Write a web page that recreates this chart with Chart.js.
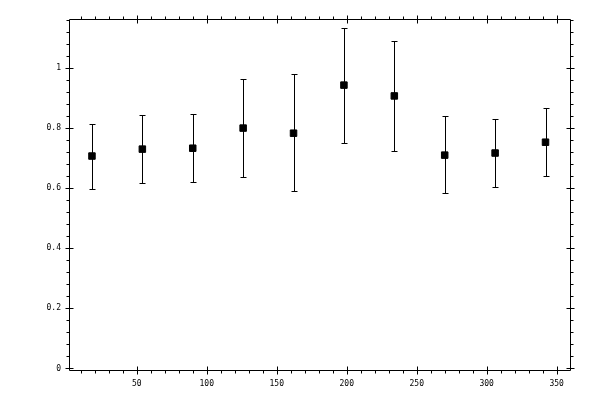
<!DOCTYPE html>
<html>
<head>
<meta charset="utf-8">
<script src="https://cdn.jsdelivr.net/npm/chart.js@4.4.1/dist/chart.umd.min.js"></script>
<style>
  html, body { margin: 0; padding: 0; background: #fff; }
  #wrap { width: 600px; height: 400px; }
</style>
</head>
<body>
<div id="wrap"><canvas id="grafico"></canvas></div>
<script>
// valores
const posicoes = [18, 54, 90, 126, 162, 198, 234, 270, 306, 342];
const medias   = [0.707, 0.730, 0.733, 0.800, 0.783, 0.943, 0.907, 0.710, 0.717, 0.753];
const superior = [0.815, 0.843, 0.847, 0.963, 0.980, 1.133, 1.090, 0.840, 0.830, 0.867];
const inferior = [0.597, 0.617, 0.621, 0.637, 0.592, 0.750, 0.723, 0.583, 0.603, 0.641];

const ticksX = [50, 100, 150, 200, 250, 300, 350];
const ticksY = [0, 0.2, 0.4, 0.6, 0.8, 1];
const passoMenorX = 10;
const passoMenorY = 0.04;

const fonte = { family: 'DejaVu Sans Mono', size: 8 };

// barras de erro
const barrasErro = {
  id: 'barrasErro',
  beforeDatasetsDraw(chart) {
    const ctx = chart.ctx;
    const sx = chart.scales.x, sy = chart.scales.y;
    ctx.save();
    ctx.strokeStyle = '#000';
    ctx.lineWidth = 1;
    posicoes.forEach((p, i) => {
      const x = Math.round(sx.getPixelForValue(p)) + 0.5;
      const y1 = Math.round(sy.getPixelForValue(superior[i])) + 0.5;
      const y2 = Math.round(sy.getPixelForValue(inferior[i])) + 0.5;
      ctx.beginPath();
      ctx.moveTo(x, y1); ctx.lineTo(x, y2);
      ctx.moveTo(x - 3, y1); ctx.lineTo(x + 3, y1);
      ctx.moveTo(x - 3, y2); ctx.lineTo(x + 3, y2);
      ctx.stroke();
    });
    ctx.restore();
  }
};

// moldura com marcas maiores e menores nos quatro lados
const moldura = {
  id: 'moldura',
  afterDraw(chart) {
    const ctx = chart.ctx;
    const a = chart.chartArea;
    const sx = chart.scales.x, sy = chart.scales.y;
    const L = Math.round(a.left) + 0.5, R = Math.round(a.right) + 0.5;
    const T = Math.round(a.top) + 0.5, B = Math.round(a.bottom) + 0.5;
    ctx.save();
    ctx.strokeStyle = '#000';
    ctx.lineWidth = 1;
    ctx.beginPath();
    ctx.rect(L, T, R - L, B - T);

    // eixo x
    for (let v = passoMenorX; v < sx.max; v += passoMenorX) {
      const x = Math.round(sx.getPixelForValue(v)) + 0.5;
      const maior = ticksX.includes(Math.round(v));
      if (maior) {
        ctx.moveTo(x, B - 4); ctx.lineTo(x, B + 4);
        ctx.moveTo(x, T - 4); ctx.lineTo(x, T + 4);
      } else {
        ctx.moveTo(x, B); ctx.lineTo(x, B + 3);
        ctx.moveTo(x, T); ctx.lineTo(x, T - 3);
      }
    }
    // eixo y
    for (let k = 0; k * passoMenorY <= sy.max; k++) {
      const v = k * passoMenorY;
      const y = Math.round(sy.getPixelForValue(v)) + 0.5;
      const maior = k % 5 === 0;
      if (maior) {
        ctx.moveTo(L - 4, y); ctx.lineTo(L + 4, y);
        ctx.moveTo(R - 4, y); ctx.lineTo(R + 4, y);
      } else {
        ctx.moveTo(L, y); ctx.lineTo(L - 3, y);
        ctx.moveTo(R, y); ctx.lineTo(R + 3, y);
      }
    }
    ctx.stroke();
    ctx.restore();
  }
};

new Chart(document.getElementById('grafico'), {
  type: 'scatter',
  data: {
    datasets: [{
      data: posicoes.map((p, i) => ({ x: p, y: medias[i] })),
      pointStyle: 'rect',
      pointRadius: 4.6,
      pointHoverRadius: 4.6,
      backgroundColor: '#000',
      borderColor: '#000',
      borderWidth: 1
    }]
  },
  options: {
    responsive: true,
    maintainAspectRatio: false,
    animation: false,
    events: [],
    layout: { padding: { top: 19, right: 30, left: 0, bottom: 0 } },
    plugins: {
      legend: { display: false },
      tooltip: { enabled: false }
    },
    scales: {
      x: {
        type: 'linear',
        min: 1.6,
        max: 359.5,
        grid: { display: false, drawTicks: false },
        border: { display: false },
        afterBuildTicks: s => { s.ticks = ticksX.map(v => ({ value: v })); },
        afterFit: s => { s.height = 30; },
        ticks: { color: '#000', font: fonte, padding: 9, maxRotation: 0, callback: v => String(v) }
      },
      y: {
        type: 'linear',
        min: -0.005,
        max: 1.163,
        grid: { display: false, drawTicks: false },
        border: { display: false },
        afterBuildTicks: s => { s.ticks = ticksY.map(v => ({ value: v })); },
        afterFit: s => { s.width = 69; },
        ticks: { color: '#000', font: fonte, padding: 8, callback: v => String(v) }
      }
    }
  },
  plugins: [barrasErro, moldura]
});
</script>
</body>
</html>
